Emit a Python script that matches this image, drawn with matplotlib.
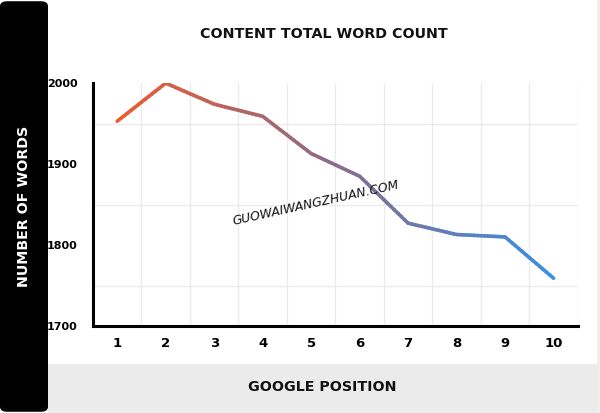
import numpy as np
import matplotlib
matplotlib.use("Agg")
import matplotlib.pyplot as plt
from matplotlib.collections import LineCollection
from matplotlib.colors import LinearSegmentedColormap
from matplotlib.patches import FancyBboxPatch, Rectangle

# dados
posicoes = [1, 2, 3, 4, 5, 6, 7, 8, 9, 10]
palavras = [1953, 2000, 1974, 1959, 1913, 1885, 1827, 1813, 1810, 1759]
y_ticks = [1700, 1800, 1900, 2000]

fig = plt.figure(figsize=(6, 4.13), dpi=100)
fig.patch.set_facecolor("white")

# faixa preta da esquerda e faixa cinza de baixo
fig.patches.append(FancyBboxPatch((0, 0.003), 0.08, 0.994, boxstyle="round,pad=0,rounding_size=0.012",
                                  transform=fig.transFigure, facecolor="black", edgecolor="none", zorder=0))
fig.patches.append(Rectangle((0.08, 0), 0.915, 0.118, transform=fig.transFigure,
                             facecolor="#ebebeb", edgecolor="none", zorder=0))
fig.patches.append(Rectangle((0.995, 0), 0.005, 1, transform=fig.transFigure,
                             facecolor="#eeeeee", edgecolor="none", zorder=0))

ax = fig.add_axes([0.155, 0.2107, 0.808, 0.588])
ax.set_xlim(0.5, 10.5)
ax.set_ylim(1700, 2000)

# grade
ax.set_xticks(np.arange(0.5, 10.6, 0.5), minor=True)
ax.set_yticks(np.arange(1700, 2001, 50), minor=True)
ax.grid(which="minor", color="#ebebeb", linewidth=1.0, zorder=0)
ax.set_axisbelow(True)

# linha com gradiente laranja -> azul
cmap = LinearSegmentedColormap.from_list("grad", ["#ee5a30", "#8a6c8c", "#3a8fe3"])
segs = []
cores = []
n = len(posicoes)
for i in range(n - 1):
    xs = np.linspace(posicoes[i], posicoes[i + 1], 15)
    ys = np.linspace(palavras[i], palavras[i + 1], 15)
    for j in range(len(xs) - 1):
        segs.append([(xs[j], ys[j]), (xs[j + 1], ys[j + 1])])
        cores.append(cmap((i + (j + 0.5) / (len(xs) - 1)) / (n - 1)))
lc = LineCollection(segs, colors=cores, linewidths=2.6, capstyle="round", joinstyle="round", zorder=3)
ax.add_collection(lc)

ax.set_xticks(posicoes)
ax.set_xticklabels([str(p) for p in posicoes], fontweight="bold", fontsize=9.5)
ax.set_yticks(y_ticks)
ax.set_yticklabels([str(v) for v in y_ticks], fontweight="bold", fontsize=8)
ax.tick_params(which="both", length=0)
ax.tick_params(axis="x", pad=8)
ax.tick_params(axis="y", pad=11)

for s in ["top", "right"]:
    ax.spines[s].set_visible(False)
for s in ["left", "bottom"]:
    ax.spines[s].set_linewidth(2.2)
    ax.spines[s].set_color("black")

fig.text(0.54, 0.918, "CONTENT TOTAL WORD COUNT", ha="center", va="center",
         fontsize=10.3, fontweight="bold", color="#111111")
fig.text(0.04, 0.50, "NUMBER OF WORDS", ha="center", va="center", rotation=90,
         fontsize=10.3, fontweight="bold", color="white")
fig.text(0.537, 0.063, "GOOGLE POSITION", ha="center", va="center",
         fontsize=10.3, fontweight="bold", color="#111111")

# marca d'agua
fig.text(0.527, 0.508, "GUOWAIWANGZHUAN.COM", ha="center", va="center", rotation=12.5,
         fontsize=9, fontstyle="italic", color="#111111")

fig.savefig("out.png", dpi=100)
